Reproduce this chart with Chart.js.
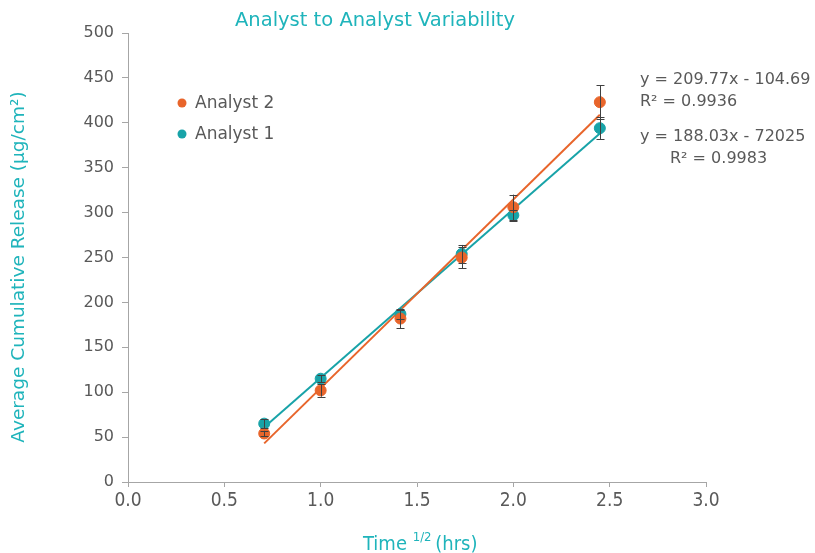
<!DOCTYPE html>
<html>
<head>
<meta charset="utf-8">
<script src="https://cdn.jsdelivr.net/npm/chart.js@4"></script>
<style>
  html, body { margin: 0; padding: 0; background: #fff; }
  #wrap { width: 815px; height: 553px; }
</style>
</head>
<body>
<div id="wrap"><canvas id="chart" width="815" height="553"></canvas></div>
<script>
// time^(1/2) in hours
const timeSqrt = [0.707, 1.0, 1.414, 1.732, 2.0, 2.449];

const analyst2 = [54, 102, 182, 250, 306, 423];
const analyst2Err = [3, 7, 11, 12, 14, 19];
const analyst1 = [65, 115, 187, 254, 297, 394];
const analyst1Err = [5, 4, 5, 10, 6, 12];

// trendline end points
const fitX = [0.707, 2.449];
const analyst2Fit = [43, 409];
const analyst1Fit = [61, 388];

const xTicks = [0, 0.5, 1, 1.5, 2, 2.5, 3];
const yTicks = [0, 50, 100, 150, 200, 250, 300, 350, 400, 450, 500];

const equations = [
    'y = 209.77x - 104.69',
    'R² = 0.9936',
    'y = 188.03x - 72025',
    'R² = 0.9983'
];

const orange = '#e8652b';
const teal = '#18a3a8';
const titleTeal = '#1fb4bb';
const grey = '#595959';
const axisGrey = '#a6a6a6';

const sans = '"DejaVu Sans", Verdana, sans-serif';
const narrow = '"DejaVu Sans Condensed", "Liberation Sans Narrow", "Roboto Condensed", sans-serif';

const toPoints = (xs, ys) => xs.map((x, i) => ({ x: x, y: ys[i] }));

// error bars + texts drawn on top of the chart
const extras = {
    id: 'extras',
    afterDatasetsDraw(chart) {
        const ctx = chart.ctx;
        const xs = chart.scales.x;
        const ys = chart.scales.y;
        ctx.save();
        ctx.strokeStyle = '#404040';
        ctx.lineWidth = 1;
        [[analyst2, analyst2Err], [analyst1, analyst1Err]].forEach(([vals, errs]) => {
            vals.forEach((v, i) => {
                const px = Math.round(xs.getPixelForValue(timeSqrt[i])) + 0.5;
                const top = ys.getPixelForValue(v + errs[i]);
                const bot = ys.getPixelForValue(v - errs[i]);
                ctx.beginPath();
                ctx.moveTo(px, top);
                ctx.lineTo(px, bot);
                ctx.moveTo(px - 4, Math.round(top) + 0.5);
                ctx.lineTo(px + 4, Math.round(top) + 0.5);
                ctx.moveTo(px - 4, Math.round(bot) + 0.5);
                ctx.lineTo(px + 4, Math.round(bot) + 0.5);
                ctx.stroke();
            });
        });
        ctx.restore();
    },
    afterDraw(chart) {
        const ctx = chart.ctx;
        ctx.save();
        // title
        ctx.fillStyle = titleTeal;
        ctx.font = '19.5px ' + sans;
        ctx.textAlign = 'center';
        ctx.textBaseline = 'middle';
        ctx.fillText('Analyst to Analyst Variability', 375, 21);

        // legend
        ctx.textAlign = 'left';
        ctx.font = '17px ' + sans;
        [['Analyst 2', orange, 103], ['Analyst 1', teal, 134]].forEach(([label, col, y]) => {
            ctx.fillStyle = col;
            ctx.beginPath();
            ctx.arc(182, y, 4.5, 0, Math.PI * 2);
            ctx.fill();
            ctx.fillStyle = grey;
            ctx.fillText(label, 195, y + 1);
        });

        // equations
        ctx.fillStyle = grey;
        ctx.font = '16px ' + sans;
        ctx.fillText(equations[0], 640, 80);
        ctx.fillText(equations[1], 640, 102);
        ctx.fillText(equations[2], 640, 137);
        ctx.fillText(equations[3], 670, 159);

        // y axis title
        ctx.save();
        ctx.translate(19, 267);
        ctx.rotate(-Math.PI / 2);
        ctx.textAlign = 'center';
        ctx.fillStyle = titleTeal;
        ctx.font = '18.5px ' + sans;
        ctx.fillText('Average Cumulative Release (µg/cm²)', 0, 0);
        ctx.restore();

        // x axis title with superscript
        ctx.fillStyle = titleTeal;
        ctx.textAlign = 'left';
        ctx.textBaseline = 'alphabetic';
        ctx.font = '20px ' + narrow;
        let x = 363;
        ctx.fillText('Time', x, 550);
        x += ctx.measureText('Time ').width;
        ctx.font = '13px ' + narrow;
        ctx.fillText('1/2', x, 541);
        x += ctx.measureText('1/2 ').width;
        ctx.font = '20px ' + narrow;
        ctx.fillText('(hrs)', x, 550);
        ctx.restore();
    }
};

new Chart(document.getElementById('chart'), {
    type: 'scatter',
    data: {
        datasets: [
            {
                label: 'Analyst 2',
                data: toPoints(timeSqrt, analyst2),
                backgroundColor: orange,
                borderColor: orange,
                pointRadius: 5.5,
                pointHoverRadius: 5.5
            },
            {
                label: 'Analyst 1',
                data: toPoints(timeSqrt, analyst1),
                backgroundColor: teal,
                borderColor: teal,
                pointRadius: 5.5,
                pointHoverRadius: 5.5
            },
            {
                label: 'Linear (Analyst 2)',
                type: 'line',
                data: toPoints(fitX, analyst2Fit),
                borderColor: orange,
                borderWidth: 2,
                pointRadius: 0,
                fill: false
            },
            {
                label: 'Linear (Analyst 1)',
                type: 'line',
                data: toPoints(fitX, analyst1Fit),
                borderColor: teal,
                borderWidth: 2,
                pointRadius: 0,
                fill: false
            }
        ]
    },
    options: {
        responsive: false,
        animation: false,
        layout: { padding: { top: 33, right: 109, left: 0, bottom: 0 } },
        plugins: {
            legend: { display: false },
            tooltip: { enabled: false }
        },
        scales: {
            x: {
                type: 'linear',
                min: 0,
                max: 3,
                afterBuildTicks: (scale) => { scale.ticks = xTicks.map(v => ({ value: v })); },
                afterFit: (scale) => { scale.height = 71; },
                border: { color: axisGrey },
                grid: { drawOnChartArea: false, color: axisGrey, tickLength: 5 },
                ticks: {
                    color: grey,
                    font: { family: narrow, size: 19 },
                    padding: 3,
                    callback: (v) => v.toFixed(1)
                }
            },
            y: {
                min: 0,
                max: 500,
                afterBuildTicks: (scale) => { scale.ticks = yTicks.map(v => ({ value: v })); },
                afterFit: (scale) => { scale.width = 128; },
                border: { color: axisGrey },
                grid: { drawOnChartArea: false, color: axisGrey, tickLength: 6 },
                ticks: {
                    color: grey,
                    font: { family: sans, size: 16 },
                    padding: 8
                }
            }
        }
    },
    plugins: [extras]
});
</script>
</body>
</html>
